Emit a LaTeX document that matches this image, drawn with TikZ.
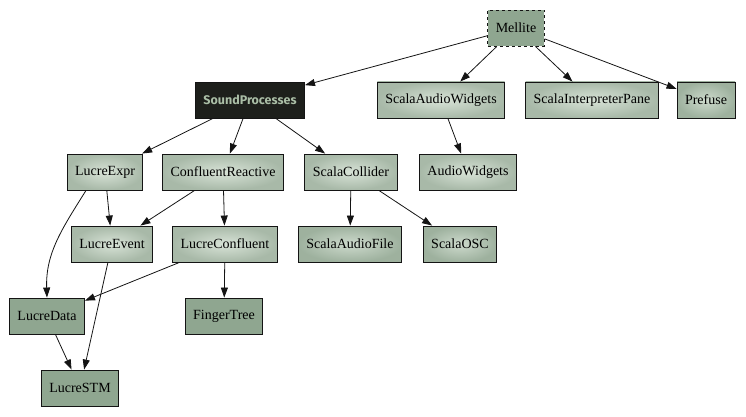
\documentclass[tikz,border=0pt]{standalone}
\usepackage{fontspec}
\setmainfont{Liberation Serif}
\newfontfamily\headsans{Fira Sans}
\usetikzlibrary{arrows.meta}
\definecolor{sagec}{RGB}{143,166,144}
\definecolor{sagemc}{RGB}{168,185,168}
\definecolor{sagelc}{RGB}{216,227,215}
\definecolor{sagetc}{RGB}{170,190,166}
\definecolor{darkc}{RGB}{29,31,27}
\definecolor{inkc}{RGB}{20,20,20}

\begin{document}
\begin{tikzpicture}[x=1pt, y=-1pt, >={Triangle[length=10pt,width=7pt]},
  pkg/.style={draw=inkc, line width=0.9pt, minimum height=36pt, inner xsep=8pt,
    font=\fontsize{14}{16}\selectfont},
  flat/.style={pkg, fill=sagec},
  marble/.style={pkg, inner color=sagelc, outer color=sagemc},
  dim/.style={pkg, inner color=sagelc!85!sagec, outer color=sagemc!60!sagec},
  dep/.style={->, draw=inkc, line width=0.8pt}]
  \useasboundingbox (0,0) rectangle (746,417);

  % top: the application and its direct deps
  \node[flat, dashed] (mellite) at (516,28) {Mellite};
  \node[pkg, fill=darkc, text=sagetc, font=\headsans\bfseries\fontsize{12.5}{14}\selectfont]
    (soundproc) at (250,100) {SoundProcesses};
  \node[marble] (audiowidg) at (441,100) {ScalaAudioWidgets};
  \node[marble] (interp) at (592,100) {ScalaInterpreterPane};
  \node[dim] (prefuse) at (706,100) {Prefuse};

  % second row
  \node[marble] (expr) at (105,172) {LucreExpr};
  \node[marble] (confreact) at (223,172) {ConfluentReactive};
  \node[marble] (collider) at (351,172) {ScalaCollider};
  \node[marble] (widgets) at (468,172) {AudioWidgets};

  % third row
  \node[marble] (event) at (112,244) {LucreEvent};
  \node[marble] (confluent) at (225,244) {LucreConfluent};
  \node[dim] (audiofile) at (350,244) {ScalaAudioFile};
  \node[dim] (osc) at (460,244) {ScalaOSC};

  % bottom rows
  \node[flat] (data) at (47,316) {LucreData};
  \node[flat] (finger) at (224,316) {FingerTree};
  \node[flat] (stm) at (80,388) {LucreSTM};

  % dependencies
  \foreach \t in {soundproc, audiowidg, interp, prefuse}
    \draw[dep] (mellite) -- (\t);
  \foreach \t in {expr, confreact, collider}
    \draw[dep] (soundproc) -- (\t);
  \draw[dep] (audiowidg) -- (widgets);
  \draw[dep] (expr) -- (event);
  \draw[dep] ([xshift=-19pt]expr.south) to[out=-122, in=92] (data.north);
  \draw[dep] (confreact) -- (event);
  \draw[dep] (confreact) -- (confluent);
  \draw[dep] (collider) -- (audiofile);
  \draw[dep] (collider) -- (osc);
  \draw[dep] (confluent) -- (data);
  \draw[dep] (confluent) -- (finger);
  \draw[dep] (event) -- (stm);
  \draw[dep] (data) -- (stm);
\end{tikzpicture}
\end{document}
